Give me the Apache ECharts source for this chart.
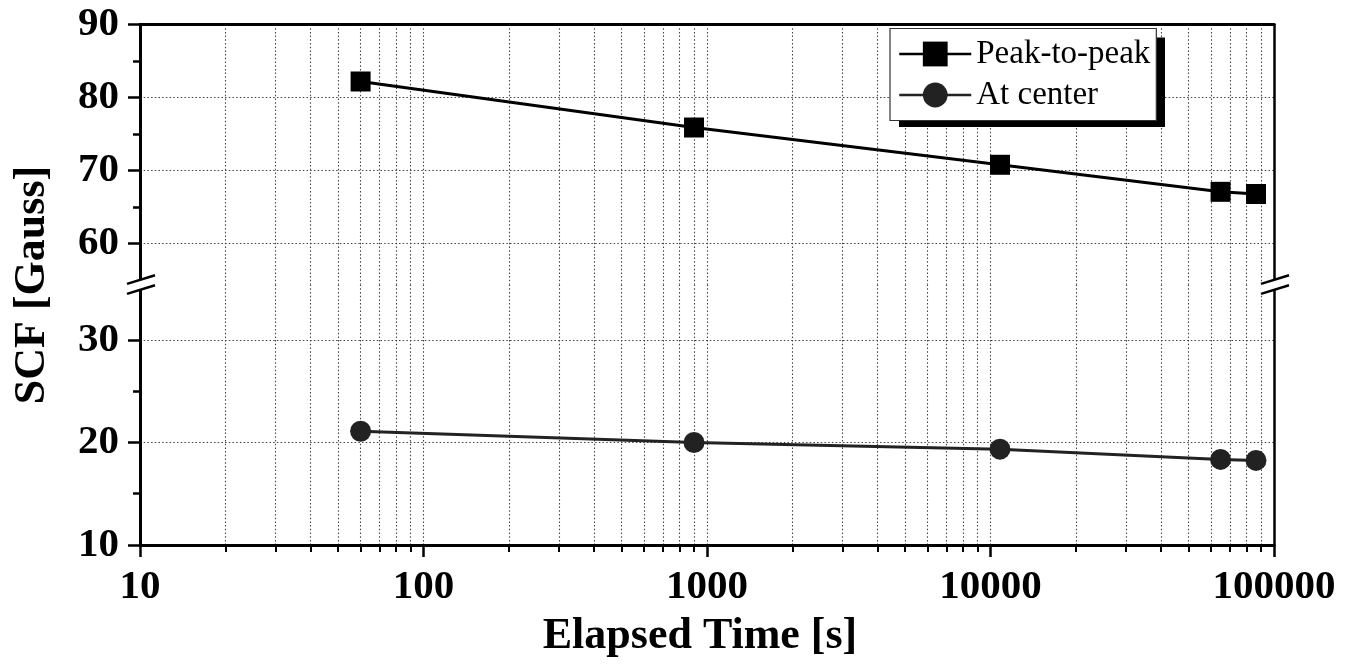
<!DOCTYPE html>
<html>
<head>
<meta charset="utf-8">
<script src="https://cdn.jsdelivr.net/npm/echarts@6/dist/echarts.min.js"></script>
<style>
  html, body { margin: 0; padding: 0; background: #fff; }
  #chart { width: 1359px; height: 667px; }
</style>
</head>
<body>
<div id="chart"></div>
<script>
// elapsed time [s]
const times = [60, 900, 10800, 64800, 86400];
// SCF [Gauss]
const peakToPeak = [82.2, 75.9, 70.8, 67.1, 66.8];
const atCenter = [21.1, 20.0, 19.35, 18.35, 18.25];

const upperTicks = [60, 70, 80, 90];
const upperMinor = [65, 75, 85];
const lowerTicks = [10, 20, 30];
const lowerMinor = [15, 25];

const serif = '"Liberation Serif", "Times New Roman", serif';
const dotted = { color: '#444', width: 1.1, type: [1.5, 2.2] };

const chart = echarts.init(document.getElementById('chart'));

const majorY = (grid, min, max, ticks) => ({
  type: 'value', gridIndex: grid, position: 'left', min: min, max: max,
  axisLine: { show: true, onZero: false, lineStyle: { color: '#000', width: 3 } },
  axisTick: { show: true, inside: false, length: 12, customValues: ticks, lineStyle: { color: '#000', width: 2.5 } },
  axisLabel: { customValues: ticks, margin: 21, color: '#000', fontFamily: serif, fontWeight: 'bold', fontSize: 41 },
  splitLine: { show: true, lineStyle: dotted }
});
const minorY = (grid, min, max, ticks) => ({
  type: 'value', gridIndex: grid, position: 'left', min: min, max: max,
  axisLine: { show: false },
  axisTick: { show: true, inside: false, length: 7, customValues: ticks, lineStyle: { color: '#000', width: 2.5 } },
  axisLabel: { show: false },
  splitLine: { show: false }
});
const borderY = (grid, min, max) => ({
  type: 'value', gridIndex: grid, position: 'right', min: min, max: max,
  axisLine: { show: true, onZero: false, lineStyle: { color: '#000', width: 2.5 } },
  axisTick: { show: false }, axisLabel: { show: false }, splitLine: { show: false }
});

chart.setOption({
  animation: false,
  backgroundColor: '#fff',
  grid: [
    { left: 140, right: 85, top: 24.5, height: 260.1 },
    { left: 140, right: 85, top: 284.6, height: 260.4 }
  ],
  xAxis: [
    {
      type: 'log', gridIndex: 0, position: 'top', min: 10, max: 100000,
      axisLine: { show: true, onZero: false, lineStyle: { color: '#000', width: 3 } },
      axisTick: { show: false }, minorTick: { show: false, splitNumber: 9 },
      axisLabel: { show: false },
      splitLine: { show: true, lineStyle: dotted },
      minorSplitLine: { show: true, lineStyle: dotted }
    },
    {
      type: 'log', gridIndex: 1, position: 'bottom', min: 10, max: 100000,
      name: 'Elapsed Time [s]', nameLocation: 'middle', nameGap: 70,
      nameTextStyle: { color: '#000', fontFamily: serif, fontWeight: 'bold', fontSize: 44, padding: [0, 14, 0, 0] },
      axisLine: { show: true, onZero: false, lineStyle: { color: '#000', width: 3 } },
      axisTick: { show: true, inside: false, length: 12, lineStyle: { color: '#000', width: 2.5 } },
      minorTick: { show: true, splitNumber: 9, length: 7, lineStyle: { color: '#000', width: 2 } },
      axisLabel: { margin: 22, color: '#000', fontFamily: serif, fontWeight: 'bold', fontSize: 41, formatter: v => String(v) },
      splitLine: { show: true, lineStyle: dotted },
      minorSplitLine: { show: true, lineStyle: dotted }
    }
  ],
  yAxis: [
    majorY(0, 54.4, 90, upperTicks),
    minorY(0, 54.4, 90, upperMinor),
    borderY(0, 54.4, 90),
    majorY(1, 10, 35.4, lowerTicks),
    minorY(1, 10, 35.4, lowerMinor),
    borderY(1, 10, 35.4)
  ],
  legend: {
    orient: 'vertical', left: 890, top: 28.5, z: 5,
    padding: [9, 6, 9, 8], itemGap: 8, itemWidth: 72, itemHeight: 31,
    backgroundColor: '#fff', borderColor: '#333', borderWidth: 1.2,
    lineStyle: { width: 2.5 },
    textStyle: { color: '#000', fontFamily: serif, fontSize: 33, lineHeight: 31 },
    data: ['Peak-to-peak', 'At center']
  },
  series: [
    {
      name: 'Peak-to-peak', type: 'line', xAxisIndex: 0, yAxisIndex: 0,
      symbol: 'rect', symbolSize: 20,
      itemStyle: { color: '#000' }, lineStyle: { color: '#000', width: 3 },
      data: times.map((t, i) => [t, peakToPeak[i]])
    },
    {
      name: 'At center', type: 'line', xAxisIndex: 1, yAxisIndex: 3,
      symbol: 'circle', symbolSize: 21,
      itemStyle: { color: '#222' }, lineStyle: { color: '#222', width: 3 },
      data: times.map((t, i) => [t, atCenter[i]])
    }
  ]
});

// axis-break marks on left and right borders
const yb = chart.convertToPixel({ yAxisIndex: 0 }, 54.4);
const xl = chart.convertToPixel({ xAxisIndex: 1 }, 10);
const xr = chart.convertToPixel({ xAxisIndex: 1 }, 100000);
const breakMark = (x) => [
  {
    type: 'polygon', silent: true, z: 10,
    shape: { points: [[x - 13, yb - 1], [x + 15, yb - 10], [x + 15, yb], [x - 13, yb + 9]] },
    style: { fill: '#fff' }
  },
  ...[-5, 5].map(d => ({
    type: 'line', silent: true, z: 11,
    shape: { x1: x - 13, y1: yb + d + 4.3, x2: x + 15, y2: yb + d - 4.3 },
    style: { stroke: '#000', lineWidth: 2.5 }
  }))
];
chart.setOption({
  graphic: [
    ...breakMark(xl), ...breakMark(xr),
    // legend drop shadow
    {
      type: 'rect', silent: true, z: 4,
      shape: { x: 899, y: 37.5, width: 266, height: 89.5 },
      style: { fill: '#000' }
    },
    {
      type: 'text', x: 33, y: 285, rotation: Math.PI / 2,
      style: { text: 'SCF [Gauss]', fill: '#000', font: 'bold 44px ' + serif, align: 'center', verticalAlign: 'middle' }
    }
  ]
});
</script>
</body>
</html>
